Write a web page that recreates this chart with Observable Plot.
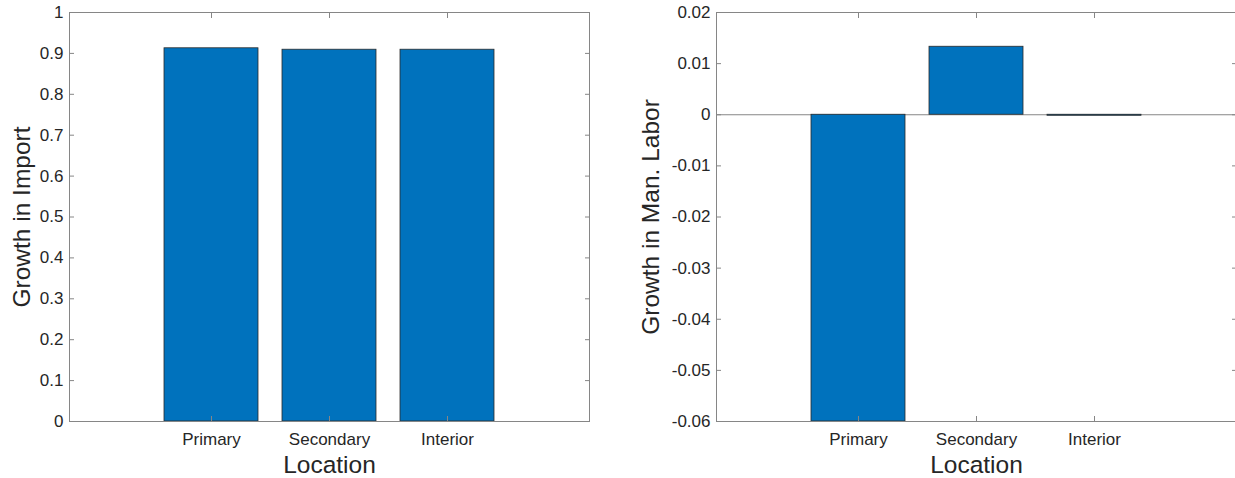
<!DOCTYPE html>
<html><head><meta charset="utf-8">
<script src="https://cdn.jsdelivr.net/npm/d3@7"></script>
<script src="https://cdn.jsdelivr.net/npm/@observablehq/plot@0.6"></script>
<style>
html,body{margin:0;padding:0;background:#fff;overflow:hidden;}
#wrap{display:flex;width:1235px;height:478px;overflow:hidden;}
#wrap svg, #wrap figure{flex:none;margin:0;}
</style></head><body><div id="wrap"></div>
<script>
const locations = ["Primary", "Secondary", "Interior"];
const importGrowth = [0.9125, 0.909, 0.909];
const laborGrowth = [-0.06, 0.0133, -0.0002];
const importTicks = [0, 0.1, 0.2, 0.3, 0.4, 0.5, 0.6, 0.7, 0.8, 0.9, 1];
const importTickLabels = ["0", "0.1", "0.2", "0.3", "0.4", "0.5", "0.6", "0.7", "0.8", "0.9", "1"];
const laborTicks = [-0.06, -0.05, -0.04, -0.03, -0.02, -0.01, 0, 0.01, 0.02];
const laborTickLabels = ["-0.06", "-0.05", "-0.04", "-0.03", "-0.02", "-0.01", "0", "0.01", "0.02"];
const xLabel = "Location";
const importLabel = "Growth in Import";
const laborLabel = "Growth in Man. Labor";

const axisColor = "#868686";
const textColor = "#262626";
const font = "'Liberation Sans', Arial, Helvetica, sans-serif";

function chart(o) {
  const data = locations.map((loc, i) => ({loc, value: o.values[i]}));
  const fmt = d => o.labels[o.ticks.indexOf(d)];
  return Plot.plot({
    width: o.width, height: 478,
    marginLeft: o.marginLeft, marginRight: o.marginRight, marginTop: 12, marginBottom: 57,
    style: {fontFamily: font, fontSize: "17px", color: textColor, background: "#fff", overflow: "visible"},
    x: {domain: locations, paddingInner: 0.2, paddingOuter: 0.794, align: 0.5},
    y: {domain: o.domain},
    marks: [
      Plot.ruleY([0], {stroke: axisColor, strokeWidth: 1}),
      Plot.barY(data, {x: "loc", y: "value", fill: "#0072BD", stroke: "#2a2a2a", strokeWidth: 0.8}),
      Plot.frame({stroke: axisColor, strokeWidth: 1}),
      Plot.axisY({anchor: "left", ticks: o.ticks, tickFormat: fmt, tickSize: -5, tickPadding: 11,
        stroke: axisColor, fill: textColor, fontSize: 17, label: null}),
      Plot.axisY({anchor: "right", ticks: o.ticks, tickFormat: () => "", tickSize: -5,
        stroke: axisColor, label: null}),
      Plot.axisX({anchor: "bottom", tickSize: -5, tickPadding: 16.7, stroke: axisColor,
        fill: textColor, fontSize: 17, label: null}),
      Plot.axisX({anchor: "top", tickSize: -5, tickFormat: () => "", stroke: axisColor, label: null}),
      Plot.text([o.ylabel], {text: d => d, frameAnchor: "left", rotate: -90, lineAnchor: "top",
        textAnchor: "middle", dx: -o.labelOffset, fontSize: 24.5, fill: textColor}),
      Plot.text([xLabel], {text: d => d, frameAnchor: "bottom", lineAnchor: "bottom",
        textAnchor: "middle", dy: 51.5, fontSize: 24.5, fill: textColor})
    ]
  });
}

const wrap = document.getElementById("wrap");
wrap.appendChild(chart({values: importGrowth, ticks: importTicks, labels: importTickLabels,
  domain: [0, 1], ylabel: importLabel, width: 617, marginLeft: 69, marginRight: 28, labelOffset: 57}));
wrap.appendChild(chart({values: laborGrowth, ticks: laborTicks, labels: laborTickLabels,
  domain: [-0.06, 0.02], ylabel: laborLabel, width: 619, marginLeft: 99, marginRight: 0, labelOffset: 75}));
</script></body></html>
